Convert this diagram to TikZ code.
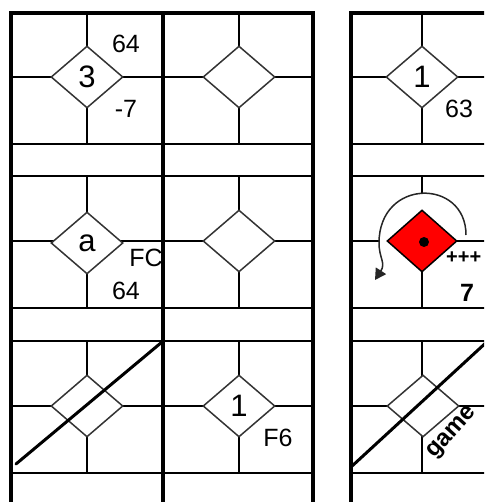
\documentclass[tikz,border=0pt]{standalone}
\usepackage{fontspec}
\setmainfont{Liberation Sans}
\usetikzlibrary{shapes.geometric,arrows.meta,positioning}
\newcommand{\gemfont}{\fontsize{31}{31}\selectfont}
\newcommand{\tagfont}{\fontsize{25}{25}\selectfont}

\begin{document}
\begin{tikzpicture}[x=1pt, y=-1pt,
  every node/.style={inner sep=0pt},
  frame/.style={line width=3.5pt},
  rule/.style={line width=2.5pt},
  cross/.style={line width=2pt},
  gem/.style={diamond, draw=black!80, line width=1.5pt, fill=white,
    minimum width=72pt, minimum height=62pt, font=\gemfont},
  tag/.style={font=\tagfont},
  slash/.style={line width=3pt, line cap=round}]
\useasboundingbox (0,0) rectangle (484,502);
\clip (0,0) rectangle (484,502);
% cross lines in every cell
\foreach \cx/\xl/\xr in {87/11/163, 239/163/313, 422/351/490}
  \foreach \cy/\yt/\yb in {77/13/144, 241/176/308, 406/341/473} {
    \draw[cross] (\cx,\yt) -- (\cx,\yb);
    \draw[cross] (\xl,\cy) -- (\xr,\cy);
  }
% strips
\foreach \yy in {144,176,308,341,473} {
  \draw[rule] (11,\yy) -- (313,\yy);
  \draw[rule] (351,\yy) -- (490,\yy);
}
\draw[frame] (11,502) -- (11,13) -- (313,13) -- (313,502);
\draw[frame] (163,13) -- (163,502);
\draw[frame] (351,502) -- (351,13) -- (490,13);
% clear the area under the turn arrow
\fill[white] (466,235) .. controls (466,178) and (379,178) .. (379,243)
  -- (380,252) -- (422,241) -- cycle;
% diamonds
\node[gem] (a1) at (87,77) {3};
\node[gem] (b1) at (239,77) {};
\node[gem] (c1) at (422,77) {1};
\node[gem] (a2) at (87,243) {a};
\node[gem] (b2) at (239,241) {};
\node[gem, fill=red, draw=black, minimum width=70pt] (c2) at (422,241) {};
\node[gem] (a3) at (87,406) {};
\node[gem] (b3) at (239,406) {1};
\node[gem] (c3) at (423,406) {};
\fill ([shift={(2pt,-1pt)}]c2.center) circle[radius=5pt];
\draw[line width=1.5pt, black!85, -{Triangle[length=11pt, width=12pt]}]
  (466,235) .. controls (466,178) and (379,178) .. (379,243)
  .. controls (379,258) and (386,263) .. (375,280);
% diagonals
\draw[slash] (16,464) -- (162,342);
\draw[slash] (351,467) -- (490,339);
% labels
\node[tag] (t64) at (126,44) {64};
\node[tag] (tneg) at (126,109) {-7};
\node[tag] (t63) at (459,109) {63};
\node[tag] (tfc) at (146,258) {FC};
\node[tag] (t64b) at (126,291) {64};
\node[anchor=west, font=\bfseries\fontsize{20}{20}\selectfont] (tplus) at (446,258) {+++};
\node[tag, font=\bfseries\tagfont] (tseven) at (467,293) {7};
\node[tag] (tf6) at (278,438) {F6};
\node[rotate=48, font=\bfseries\fontsize{24}{24}\selectfont] (tgame) at (453,433) {game};
\end{tikzpicture}
\end{document}
